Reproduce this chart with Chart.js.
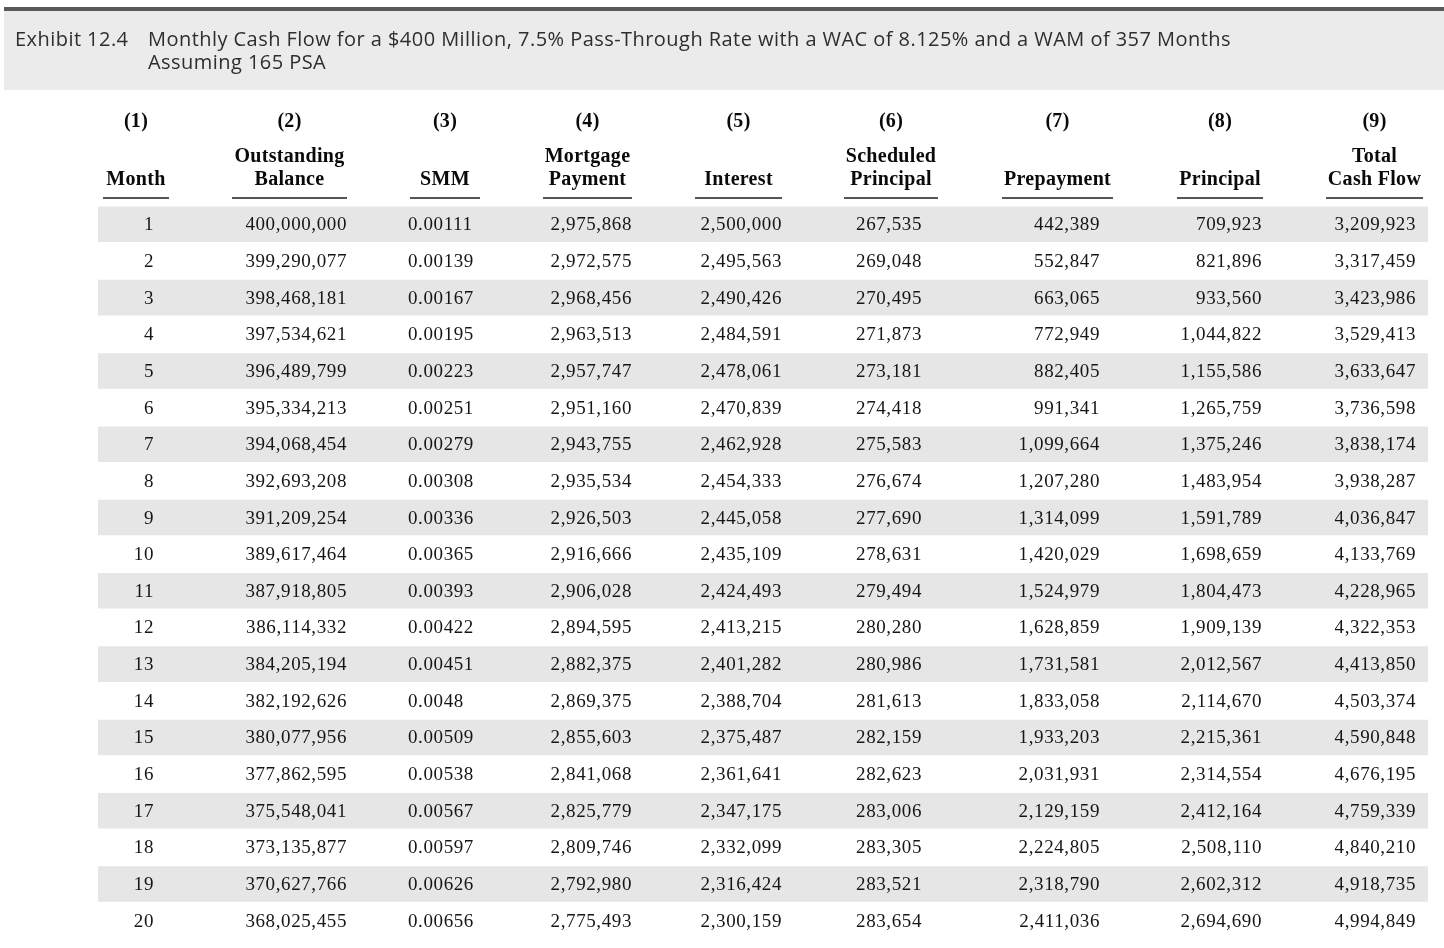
<!DOCTYPE html>
<html>
<head>
<meta charset="utf-8">
<script src="https://cdn.jsdelivr.net/npm/chart.js@4.4.1/dist/chart.umd.min.js"></script>
<style>
  html, body { margin: 0; padding: 0; background: #fff; }
  #wrap { width: 1444px; height: 948px; position: relative; }
</style>
</head>
<body>
<div id="wrap"><canvas id="table"></canvas></div>
<script>
// Table data, one array per column
var months = [1, 2, 3, 4, 5, 6, 7, 8, 9, 10, 11, 12, 13, 14, 15, 16, 17, 18, 19, 20];
var balance = [400000000, 399290077, 398468181, 397534621, 396489799, 395334213, 394068454, 392693208, 391209254, 389617464,
               387918805, 386114332, 384205194, 382192626, 380077956, 377862595, 375548041, 373135877, 370627766, 368025455];
var smm = [0.00111, 0.00139, 0.00167, 0.00195, 0.00223, 0.00251, 0.00279, 0.00308, 0.00336, 0.00365,
           0.00393, 0.00422, 0.00451, 0.0048, 0.00509, 0.00538, 0.00567, 0.00597, 0.00626, 0.00656];
var payment = [2975868, 2972575, 2968456, 2963513, 2957747, 2951160, 2943755, 2935534, 2926503, 2916666,
               2906028, 2894595, 2882375, 2869375, 2855603, 2841068, 2825779, 2809746, 2792980, 2775493];
var interest = [2500000, 2495563, 2490426, 2484591, 2478061, 2470839, 2462928, 2454333, 2445058, 2435109,
                2424493, 2413215, 2401282, 2388704, 2375487, 2361641, 2347175, 2332099, 2316424, 2300159];
var schedPrincipal = [267535, 269048, 270495, 271873, 273181, 274418, 275583, 276674, 277690, 278631,
                      279494, 280280, 280986, 281613, 282159, 282623, 283006, 283305, 283521, 283654];
var prepayment = [442389, 552847, 663065, 772949, 882405, 991341, 1099664, 1207280, 1314099, 1420029,
                  1524979, 1628859, 1731581, 1833058, 1933203, 2031931, 2129159, 2224805, 2318790, 2411036];
var principal = [709923, 821896, 933560, 1044822, 1155586, 1265759, 1375246, 1483954, 1591789, 1698659,
                 1804473, 1909139, 2012567, 2114670, 2215361, 2314554, 2412164, 2508110, 2602312, 2694690];
var totalCashFlow = [3209923, 3317459, 3423986, 3529413, 3633647, 3736598, 3838174, 3938287, 4036847, 4133769,
                     4228965, 4322353, 4413850, 4503374, 4590848, 4676195, 4759339, 4840210, 4918735, 4994849];

var titleLabel = "Exhibit 12.4";
var titleLines = ["Monthly Cash Flow for a $400 Million, 7.5% Pass-Through Rate with a WAC of 8.125% and a WAM of 357 Months",
                  "Assuming 165 PSA"];

function fmt(v) { return v.toLocaleString("en-US"); }

// column layout, x in the x-scale units (scale spans the page width)
var columns = [
  { num: "(1)", head: ["", "Month"], rule: [103, 169], values: months, x: 154, align: "right", f: String },
  { num: "(2)", head: ["Outstanding", "Balance"], rule: [232, 347], values: balance, x: 347, align: "right", f: fmt },
  { num: "(3)", head: ["", "SMM"], rule: [410, 480], values: smm, x: 408, align: "left", f: String },
  { num: "(4)", head: ["Mortgage", "Payment"], rule: [543, 632], values: payment, x: 632, align: "right", f: fmt },
  { num: "(5)", head: ["", "Interest"], rule: [695, 782], values: interest, x: 782, align: "right", f: fmt },
  { num: "(6)", head: ["Scheduled", "Principal"], rule: [844, 938], values: schedPrincipal, x: 922, align: "right", f: fmt },
  { num: "(7)", head: ["", "Prepayment"], rule: [1002, 1113], values: prepayment, x: 1100, align: "right", f: fmt },
  { num: "(8)", head: ["", "Principal"], rule: [1177, 1263], values: principal, x: 1262, align: "right", f: fmt },
  { num: "(9)", head: ["Total", "Cash Flow"], rule: [1326, 1423], values: totalCashFlow, x: 1416, align: "right", f: fmt }
];

// shaded bands on odd rows
var stripes = months.map(function (m) { return m % 2 === 1 ? [98, 1428] : null; });

var tablePlugin = {
  id: "tablePlugin",
  beforeDraw: function (chart) {
    var ctx = chart.ctx, w = chart.width;
    ctx.save();
    ctx.fillStyle = "#ffffff";
    ctx.fillRect(0, 0, w, chart.height);
    // title band
    ctx.fillStyle = "#ebebeb";
    ctx.fillRect(4, 11, w - 4, 79);
    ctx.fillStyle = "#5a5a5a";
    ctx.fillRect(4, 7, w - 4, 4);
    ctx.fillStyle = "#2e2e2e";
    ctx.font = "500 20px 'Open Sans'";
    ctx.letterSpacing = "0.45px";
    ctx.textBaseline = "middle";
    ctx.textAlign = "left";
    ctx.fillText(titleLabel, 15, 40);
    ctx.fillText(titleLines[0], 148, 40);
    ctx.fillText(titleLines[1], 148, 63);
    ctx.restore();
  },
  afterDatasetsDraw: function (chart) {
    var ctx = chart.ctx, xs = chart.scales.x, ys = chart.scales.y;
    var top = chart.chartArea.top;
    ctx.save();
    ctx.textBaseline = "middle";
    columns.forEach(function (c) {
      var cx = xs.getPixelForValue((c.rule[0] + c.rule[1]) / 2);
      ctx.fillStyle = "#0a0a0a";
      ctx.textAlign = "center";
      ctx.font = "bold 20px 'Liberation Serif'";
      ctx.letterSpacing = "0.3px";
      ctx.fillText(c.num, cx, top - 84);
      if (c.head[0]) ctx.fillText(c.head[0], cx, top - 49);
      ctx.fillText(c.head[1], cx, top - 26);
      // header rule
      ctx.strokeStyle = "#555";
      ctx.lineWidth = 2;
      ctx.beginPath();
      ctx.moveTo(xs.getPixelForValue(c.rule[0]), top - 8);
      ctx.lineTo(xs.getPixelForValue(c.rule[1]), top - 8);
      ctx.stroke();
      // cells
      ctx.font = "19px 'Liberation Serif'";
      ctx.letterSpacing = "0.6px";
      ctx.fillStyle = "#151515";
      ctx.textAlign = c.align;
      c.values.forEach(function (v, i) {
        ctx.fillText(c.f(v), xs.getPixelForValue(c.x), ys.getPixelForValue(i) + 1);
      });
    });
    ctx.restore();
  }
};

new Chart(document.getElementById("table"), {
  type: "bar",
  data: {
    labels: months.map(String),
    datasets: [{
      data: stripes,
      backgroundColor: "#e6e6e6",
      borderWidth: 0,
      barPercentage: 0.97,
      categoryPercentage: 1
    }]
  },
  options: {
    indexAxis: "y",
    responsive: true,
    maintainAspectRatio: false,
    animation: false,
    layout: { padding: { top: 206, bottom: 9, left: 0, right: 0 } },
    plugins: { legend: { display: false }, tooltip: { enabled: false } },
    scales: {
      x: { type: "linear", min: 0, max: 1444, display: false },
      y: { type: "category", display: false }
    }
  },
  plugins: [tablePlugin]
});
</script>
</body>
</html>
